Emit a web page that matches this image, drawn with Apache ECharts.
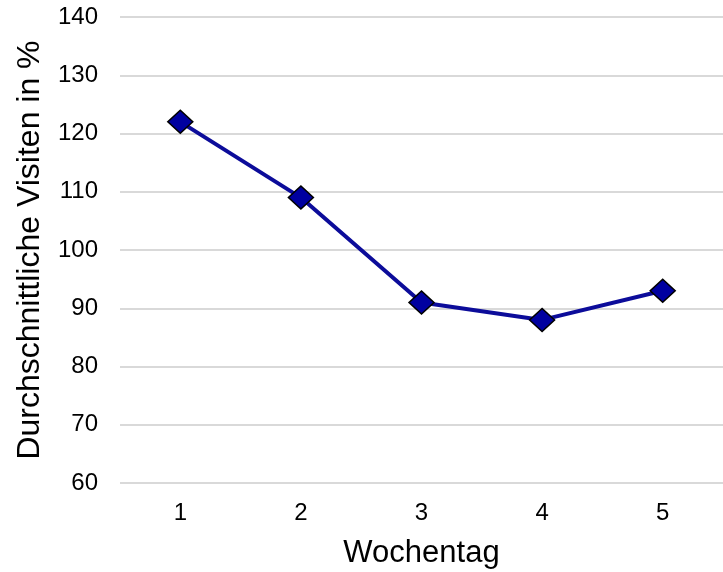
<!DOCTYPE html>
<html>
<head>
<meta charset="utf-8">
<script src="https://cdn.jsdelivr.net/npm/echarts@6/dist/echarts.min.js"></script>
<style>html,body{margin:0;padding:0;background:#fff}#c{width:723px;height:572px}</style>
</head>
<body>
<div id="c"></div>
<script>
const categories = ['1', '2', '3', '4', '5'];
const visits = [122, 109, 91, 88, 93];
const yTicks = [60, 70, 80, 90, 100, 110, 120, 130, 140];

const chart = echarts.init(document.getElementById('c'), null, {renderer: 'canvas'});
chart.setOption({
  animation: false,
  backgroundColor: '#fff',
  textStyle: {fontFamily: 'Liberation Sans, Arial, sans-serif'},
  grid: {left: 120, right: 0, top: 17, bottom: 89, containLabel: false, outerBoundsMode: 'none'},
  xAxis: {
    type: 'category',
    data: categories,
    boundaryGap: true,
    name: 'Wochentag',
    nameLocation: 'middle',
    nameGap: 55,
    nameTextStyle: {fontSize: 31, color: '#000', fontFamily: 'Liberation Sans'},
    axisLine: {show: false},
    axisTick: {show: false},
    axisLabel: {fontSize: 24, color: '#000', margin: 18, fontFamily: 'Liberation Sans'}
  },
  yAxis: {
    type: 'value',
    min: yTicks[0],
    max: yTicks[yTicks.length - 1],
    interval: 10,
    name: 'Durchschnittliche Visiten in %',
    nameLocation: 'middle',
    nameGap: 74,
    nameTextStyle: {fontSize: 32, color: '#000', fontFamily: 'Liberation Sans'},
    axisLine: {show: false},
    axisTick: {show: false},
    axisLabel: {fontSize: 24, color: '#000', margin: 22, fontFamily: 'Liberation Sans'},
    splitLine: {lineStyle: {color: '#d9d9d9', width: 2}}
  },
  series: [{
    type: 'line',
    data: visits,
    symbol: 'diamond',
    symbolSize: [25, 23],
    lineStyle: {color: '#0c0c9a', width: 4},
    itemStyle: {color: '#0000a0', borderColor: '#000', borderWidth: 1.5}
  }]
});
</script>
</body>
</html>
